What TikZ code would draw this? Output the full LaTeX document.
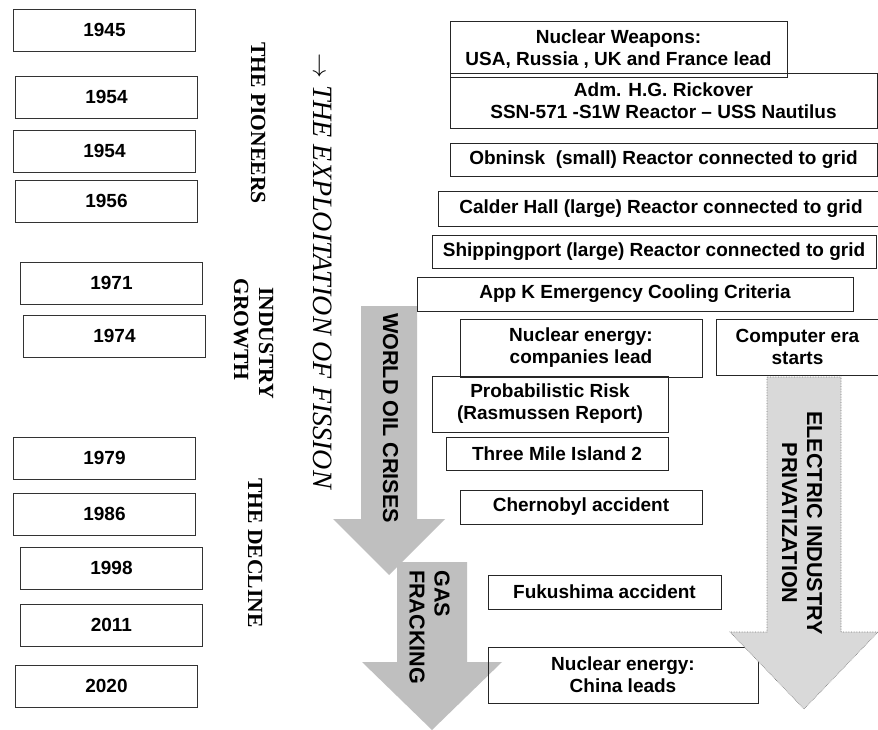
\documentclass[tikz,border=0pt]{standalone}
\usepackage{fontspec}
\setmainfont{Liberation Serif}
\setsansfont{Liberation Sans}
\usepackage{tikz}
\definecolor{arrowgrey}{RGB}{191,191,191}
\definecolor{palegrey}{RGB}{217,217,217}
\definecolor{edgegrey}{RGB}{120,120,120}

\begin{document}
\begin{tikzpicture}[x=1pt, y=-1pt,
  every node/.style={inner sep=0pt, align=center},
  yearbox/.style={draw=black!80, line width=0.9pt, minimum width=182pt, minimum height=42pt,
    anchor=north west, font=\sffamily\bfseries\fontsize{19}{22}\selectfont},
  eventbox/.style={draw=black!85, line width=0.9pt, font=\sffamily\bfseries\fontsize{19}{22}\selectfont},
  eralabel/.style={font=\rmfamily\bfseries\fontsize{21.6}{25}\selectfont, rotate=-90, anchor=base west},
  bandlabel/.style={font=\sffamily\bfseries\fontsize{21.6}{25}\selectfont, rotate=-90}]
  \fill[white] (0,0) rectangle (878,730);
  \useasboundingbox (0,0) rectangle (878,730);

  % grey trend arrows behind the boxes
  \fill[arrowgrey] (361,306) -- (417,306) -- (417,519) -- (445,519) -- (389,575)
    -- (333,519) -- (361,519) -- cycle;
  \fill[arrowgrey] (397,562) -- (467,562) -- (467,662) -- (502,662) -- (432,730)
    -- (362,662) -- (397,662) -- cycle;

  % year column
  \foreach \yr/\xl/\yt [count=\idx] in {1945/13/9, 1954/15/76, 1954/13/130, 1956/15/180,
      1971/20/262, 1974/23/315, 1979/13/437, 1986/13/493, 1998/20/547, 2011/20/604, 2020/15/665} {
    \node[yearbox] (year\idx) at (\xl,\yt) {\yr};
  }

  % events: name / left / top / right / bottom / text
  \foreach \nm/\xa/\ya/\xb/\yb/\txt in {
      weapons/450/21/787/77/{Nuclear Weapons:\\USA, Russia , UK and France lead},
      rickover/450/73/877/128/{Adm. H.G. Rickover\\SSN-571 -S1W Reactor – USS Nautilus},
      obninsk/450/143/877/176/{Obninsk~ (small) Reactor connected to grid},
      calder/438/191/884/226/{Calder Hall (large) Reactor connected to grid},
      shipping/432/235/876/268/{Shippingport (large) Reactor connected to grid},
      appk/417/277/853/311/{App K Emergency Cooling Criteria},
      companies/460/319/702/377/{Nuclear energy:\\companies lead},
      computer/716/319/879/375/{Computer era\\starts},
      rasmussen/432/376/668/432/{Probabilistic Risk\\(Rasmussen Report)},
      tmi/446/437/668/470/{Three Mile Island 2},
      chernobyl/460/490/702/524/{Chernobyl accident},
      fukushima/488/575/721/609/{Fukushima accident},
      china/488/647/758/703/{Nuclear energy:\\China leads}} {
    \pgfmathsetmacro\bw{\xb-\xa}
    \pgfmathsetmacro\bh{\yb-\ya}
    \node[eventbox, minimum width=\bw pt, minimum height=\bh pt] (\nm)
      at ({(\xa+\xb)/2},{(\ya+\yb)/2}) {\txt};
  }

  % privatization arrow sits over the last box
  \filldraw[fill=palegrey, draw=edgegrey, densely dotted, line width=0.6pt]
    (767,377) -- (841,377) -- (841,632) -- (878,632) -- (804,709)
    -- (730,632) -- (767,632) -- cycle;

  % era labels
  \node[eralabel] (pioneers) at (251,42) {THE PIONEERS};
  \node[eralabel] (industry) at (259,287) {INDUSTRY};
  \node[eralabel] (growth) at (234,278) {GROWTH};
  \node[eralabel] (decline) at (248,478) {THE DECLINE};
  \node[eralabel, font=\rmfamily\itshape\fontsize{28}{32}\selectfont] (fission)
    at (313,53) {$\rightarrow$ THE EXPLOITATION OF FISSION};

  % arrow labels
  \node[bandlabel, anchor=base west] (oillabel) at (383,313) {WORLD OIL CRISES};
  \node[bandlabel, anchor=north west, align=left] (fracklabel) at (450,570) {GAS\\FRACKING};
  \node[bandlabel] (privlabel) at (802,523) {ELECTRIC INDUSTRY\\PRIVATIZATION};
\end{tikzpicture}
\end{document}
